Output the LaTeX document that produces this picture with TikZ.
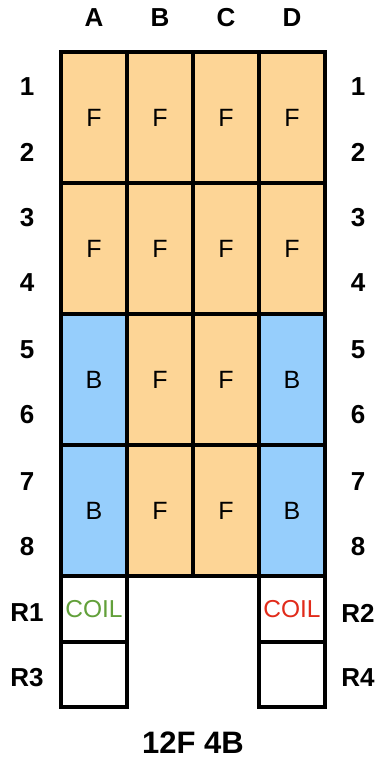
\documentclass[tikz,border=0pt]{standalone}
\usepackage{fontspec}
\setmainfont{Liberation Sans}
\usetikzlibrary{positioning}
\definecolor{seatF}{HTML}{FDD596}
\definecolor{seatB}{HTML}{96CEFC}
\definecolor{coilG}{HTML}{62A03A}
\definecolor{coilR}{HTML}{E12B1A}

\begin{document}
\begin{tikzpicture}[
  x=1pt, y=-1pt,
  every node/.style={font=\fontsize{25}{29}\selectfont},
  fcell/.style={draw, line width=4pt, fill=seatF, minimum width=66pt, minimum height=131pt, inner sep=0pt, outer sep=0pt},
  bcell/.style={fcell, fill=seatB},
  rcell/.style={draw, line width=4pt, fill=white, minimum width=66pt, minimum height=65.5pt, inner sep=0pt, outer sep=0pt},
  lbl/.style={font=\bfseries\fontsize{26}{30}\selectfont}
]
  \useasboundingbox (0,0) rectangle (378,760);

  % seats, rows 1-2
  \node[fcell] (a12) at (94,117.5) {F};
  \node[fcell, right=0pt of a12] (b12) {F};
  \node[fcell, right=0pt of b12] (c12) {F};
  \node[fcell, right=0pt of c12] (d12) {F};
  % rows 3-4
  \node[fcell, below=0pt of a12] (a34) {F};
  \node[fcell, right=0pt of a34] (b34) {F};
  \node[fcell, right=0pt of b34] (c34) {F};
  \node[fcell, right=0pt of c34] (d34) {F};
  % rows 5-6
  \node[bcell, below=0pt of a34] (a56) {B};
  \node[fcell, right=0pt of a56] (b56) {F};
  \node[fcell, right=0pt of b56] (c56) {F};
  \node[bcell, right=0pt of c56] (d56) {B};
  % rows 7-8
  \node[bcell, below=0pt of a56] (a78) {B};
  \node[fcell, right=0pt of a78] (b78) {F};
  \node[fcell, right=0pt of b78] (c78) {F};
  \node[bcell, right=0pt of c78] (d78) {B};
  % rear boxes
  \node[rcell, below=0pt of a78] (r1) {\textcolor{coilG}{\fontsize{24.5}{28}\selectfont COIL}};
  \node[rcell, below=0pt of r1] (r3) {};
  \node[rcell, below=0pt of d78] (r2) {\textcolor{coilR}{\fontsize{24.5}{28}\selectfont COIL}};
  \node[rcell, below=0pt of r2] (r4) {};

  % column letters
  \foreach \c/\x in {A/94,B/160,C/226,D/292}
    \node[lbl] (col\c) at (\x,18) {\c};

  % row labels, both sides
  \foreach \n/\y in {1/87,2/152,3/218,4/283,5/350,6/415,7/482,8/547}{
    \node[lbl] (left\n) at (27,\y) {\n};
    \node[lbl] (right\n) at (358,\y) {\n};
  }
  \node[lbl] (lr1) at (27,613) {R1};
  \node[lbl] (lr3) at (27,678) {R3};
  \node[lbl] (lr2) at (358,613) {R2};
  \node[lbl] (lr4) at (358,678) {R4};

  \node[font=\bfseries\fontsize{31}{35}\selectfont] (title) at (193,743) {12F 4B};
\end{tikzpicture}
\end{document}
